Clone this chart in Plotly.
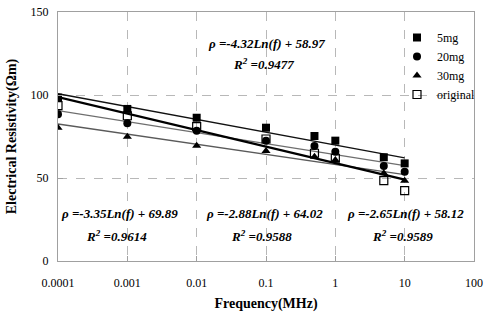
import numpy as np
import plotly.graph_objects as go

# ---- data ----
freq = [0.0001, 0.001, 0.01, 0.1, 0.5, 1, 5, 10]
rho_5mg = [98.4, 91.6, 86.3, 80.3, 75.3, 72.5, 62.5, 58.8]
rho_20mg = [88.4, 83.0, 78.5, 72.5, 69.3, 65.8, 57.2, 53.8]
rho_30mg = [80.3, 74.9, 69.5, 66.3, 62.8, 60.8, 52.8, 48.4]
rho_orig = [93.6, 87.5, 80.9, 73.5, 64.9, 61.9, 48.4, 42.4]

# log trend coefficients (slope, intercept) and R^2
fit_5mg = (-3.35, 69.89, 0.9614)
fit_20mg = (-2.88, 64.02, 0.9588)
fit_30mg = (-2.65, 58.12, 0.9589)
fit_orig = (-4.32, 58.97, 0.9477)

x_tickvals = [0.0001, 0.001, 0.01, 0.1, 1, 10, 100]
x_ticktext = ["0.0001", "0.001", "0.01", "0.1", "1", "10", "100"]
y_tickvals = [0, 50, 100, 150]

FONT = "Liberation Serif"

fig = go.Figure()

f = np.array(freq)
def trend(c):
    return c[0] * np.log(f) + c[1]

line_styles = [
    (fit_5mg, "#111111", 1.3),
    (fit_20mg, "#6e6e6e", 1.3),
    (fit_30mg, "#5a5a5a", 1.3),
    (fit_orig, "#000000", 2.4),
]
for c, col, w in line_styles:
    fig.add_trace(go.Scatter(x=freq, y=trend(c), mode="lines",
                             line=dict(color=col, width=w),
                             showlegend=False, hoverinfo="skip"))

series = [
    ("5mg", rho_5mg, dict(symbol="square", color="black", size=8)),
    ("20mg", rho_20mg, dict(symbol="circle", color="black", size=8)),
    ("30mg", rho_30mg, dict(symbol="triangle-up", color="black", size=8)),
    ("original", rho_orig, dict(symbol="square-open", color="black", size=8,
                                line=dict(width=1.2))),
]
for name, y, m in series:
    fig.add_trace(go.Scatter(x=freq, y=y, mode="markers", name=name, marker=m))

L, R, T, B = 58, 11, 12, 63
W, H = 485, 324
pw, ph = W - L - R, H - T - B

def px(x):
    return (x - L) / pw

def py(y):
    return (H - B - y) / ph

def eq_text(c):
    sign = "+" if c[1] >= 0 else "-"
    return f"ρ =-{abs(c[0]):.2f}Ln(f) {sign} {abs(c[1]):.2f}"

ann = []
for c, cx, ey, ry in [
    (fit_orig, 266, 43, 64),
    (fit_5mg, 119, 213, 236),
    (fit_20mg, 264, 213, 236),
    (fit_30mg, 405, 213, 236),
]:
    ann.append(dict(x=px(cx), y=py(ey), xref="paper", yref="paper",
                    xanchor="center", yanchor="middle",
                    text=f"<b><i>{eq_text(c)}</i></b>", showarrow=False,
                    font=dict(family=FONT, size=13, color="black")))
    ann.append(dict(x=px(cx - 3), y=py(ry), xref="paper", yref="paper",
                    xanchor="center", yanchor="middle",
                    text=f"<b><i>R<sup>2</sup> ={c[2]:.4f}</i></b>", showarrow=False,
                    font=dict(family=FONT, size=13, color="black")))

fig.update_layout(
    width=W, height=H,
    margin=dict(l=L, r=R, t=T, b=B, autoexpand=False),
    paper_bgcolor="white", plot_bgcolor="white",
    font=dict(family=FONT, size=12, color="black"),
    annotations=ann,
    legend=dict(x=px(397), y=py(23), xanchor="left", yanchor="top",
                bgcolor="rgba(0,0,0,0)", font=dict(family=FONT, size=12),
                itemwidth=30, tracegroupgap=0),
    xaxis=dict(type="log", range=[-4, 2], tickvals=x_tickvals, ticktext=x_ticktext,
               showgrid=True, gridcolor="#b8b8b8", griddash="dash", gridwidth=1,
               showline=True, linecolor="#a0a0a0", mirror=True,
               ticks="inside", ticklen=5, tickcolor="#a0a0a0",
               ticklabelstandoff=11,
               zeroline=False, automargin=False,
               title=dict(text="<b>Frequency(MHz)</b>", font=dict(family=FONT, size=14),
                          standoff=8)),
    yaxis=dict(range=[0, 150], tickvals=y_tickvals,
               showgrid=True, gridcolor="#b8b8b8", griddash="dash", gridwidth=1,
               showline=True, linecolor="#a0a0a0", mirror=True,
               ticks="inside", ticklen=5, tickcolor="#a0a0a0",
               ticklabelstandoff=6,
               zeroline=False, automargin=False,
               title=dict(text="<b>Electrical Resistivity(Ωm)</b>",
                          font=dict(family=FONT, size=14), standoff=10)),
)

fig.write_html("out.html", config={"displayModeBar": False},
               post_script="document.body.style.margin='0';document.body.style.padding='0';")
